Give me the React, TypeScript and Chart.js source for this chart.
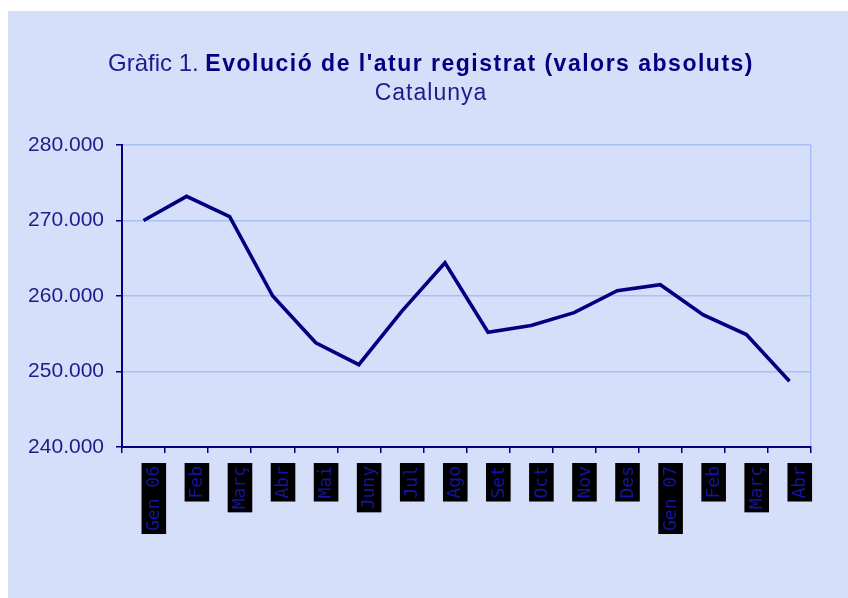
import React, { useEffect, useRef } from 'react';
import { Chart, registerables } from 'chart.js';

Chart.register(...registerables);

const months = ['Gen 06', 'Feb', 'Març', 'Abr', 'Mai', 'Juny', 'Jul', 'Ago', 'Set', 'Oct', 'Nov', 'Des', 'Gen 07', 'Feb', 'Març', 'Abr'];
const unemployed = [270000, 273200, 270500, 260000, 253800, 250900, 258000, 264400, 255200, 256100, 257800, 260700, 261500, 257500, 254900, 248700];
const yMin = 240000;
const yMax = 280000;
const yStep = 10000;
const titlePrefix = 'Gràfic 1. ';
const titleMain = "Evolució de l'atur registrat (valors absoluts)";
const subtitle = 'Catalunya';

const NAVY = '#000080';
const TEXT = '#1c1c8c';
const GRID = '#a9c0f6';
const BG = '#d6dffa';

const fmt = (v: number) => {
  const s = Math.round(v).toString();
  return s.replace(/\B(?=(\d{3})+(?!\d))/g, '.');
};

const titlePlugin = {
  id: 'mixedTitle',
  afterDraw(chart: any) {
    const ctx = chart.ctx as any;
    ctx.save();
    const f1 = '24px "Liberation Sans", Arial, sans-serif';
    const f2 = 'bold 23px "Liberation Sans", Arial, sans-serif';
    const s1 = '0px';
    const s2 = '1.5px';
    ctx.textBaseline = 'alphabetic';
    ctx.textAlign = 'left';
    ctx.font = f1;
    ctx.letterSpacing = s1;
    const w1 = ctx.measureText(titlePrefix).width;
    ctx.font = f2;
    ctx.letterSpacing = s2;
    const w2 = ctx.measureText(titleMain).width;
    const cx = 423;
    const x = cx - (w1 + w2) / 2;
    ctx.font = f1;
    ctx.letterSpacing = s1;
    ctx.fillStyle = TEXT;
    ctx.fillText(titlePrefix, x, 60);
    ctx.font = f2;
    ctx.letterSpacing = s2;
    ctx.fillStyle = NAVY;
    ctx.fillText(titleMain, x + w1, 60);
    ctx.font = '23px "Liberation Sans", Arial, sans-serif';
    ctx.letterSpacing = '1px';
    ctx.fillStyle = TEXT;
    const w3 = ctx.measureText(subtitle).width;
    ctx.fillText(subtitle, cx - w3 / 2, 89);
    ctx.restore();
  },
};

export default function App() {
  const ref = useRef<HTMLCanvasElement | null>(null);
  useEffect(() => {
    if (!ref.current) return;
    const chart = new Chart(ref.current, {
      type: 'line',
      data: {
        labels: months,
        datasets: [
          {
            data: unemployed,
            borderColor: NAVY,
            borderWidth: 3.6,
            pointRadius: 0,
            tension: 0,
            fill: false,
          },
        ],
      },
      options: {
        responsive: false,
        animation: false,
        layout: { padding: { top: 134, right: 37, left: 0, bottom: 0 } },
        plugins: { legend: { display: false }, title: { display: false }, tooltip: { enabled: false } },
        scales: {
          x: {
            offset: true,
            grid: {
              offset: true,
              color: (c: any) => (c.type === 'tick' ? 'rgba(0,0,0,0)' : GRID),
              tickColor: NAVY,
              tickLength: 6,
              lineWidth: 1.5,
            },
            border: { color: NAVY, width: 2 },
            ticks: {
              autoSkip: false,
              maxRotation: 90,
              minRotation: 90,
              padding: 13,
              color: '#1414a0',
              font: { family: '"DejaVu Sans Mono", monospace', size: 18 },
              showLabelBackdrop: true,
              backdropColor: '#000000',
              backdropPadding: { top: 2, bottom: 1, left: 3, right: 3 },
            },
            afterFit: (s: any) => {
              s.height = 151;
            },
          },
          y: {
            min: yMin,
            max: yMax,
            grid: { color: GRID, tickColor: NAVY, tickLength: 6, lineWidth: 1.5 },
            border: { color: NAVY, width: 2 },
            ticks: {
              stepSize: yStep,
              padding: 12,
              color: TEXT,
              font: { family: '"Liberation Sans", Arial, sans-serif', size: 21 },
              callback: (v: any) => fmt(Number(v)),
            },
            afterFit: (s: any) => {
              s.width = 114;
            },
          },
        },
      },
      plugins: [titlePlugin],
    });
    return () => chart.destroy();
  }, []);
  return (
    <div style={{ position: 'fixed', left: 8, top: 11, width: 840, height: 587, background: BG }}>
      <canvas ref={ref} width={840} height={587} />
    </div>
  );
}
